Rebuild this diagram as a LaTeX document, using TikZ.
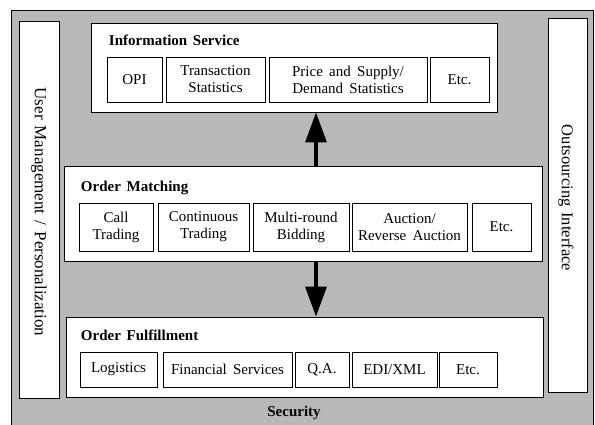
\documentclass[tikz,border=0pt]{standalone}
\usepackage{xcolor}
\usepackage{fontspec}
\setmainfont{Liberation Serif}
\usepackage{tikz}
\usetikzlibrary{arrows.meta}

\begin{document}
\begin{tikzpicture}[x=1pt,y=1pt,yscale=-1,xscale=1,
  panel/.style={draw,fill=white,line width=0.9pt,inner sep=0pt},
  cell/.style={draw,fill=white,line width=0.8pt,align=center,inner sep=0pt,font=\fontsize{15}{17}\selectfont,execute at begin node={\spaceskip=0.42em\relax}},
  title/.style={anchor=west,inner sep=0.75pt,font=\fontsize{15}{17}\selectfont\bfseries,execute at begin node={\spaceskip=0.38em\relax}},
  side/.style={inner sep=0pt,rotate=-90,font=\fontsize{17}{20}\selectfont,execute at begin node={\spaceskip=0.36em\relax}},
  flow/.style={line width=3.5pt,-{Triangle[length=30pt,width=21pt]}}]
\useasboundingbox (0,0) rectangle (595,425);
%Shape: Rectangle [Security frame]
\draw [fill=black!28,line width=0.9pt] (11,10) rectangle (593,432);

%Side panels
\node (user) [panel,minimum width=40pt,minimum height=377pt] at (39,209.5) {};
\node (outs) [panel,minimum width=39pt,minimum height=374pt] at (567.5,205) {};
% Text Node
\node (usert) [side] at (39,212) {User Management / Personalization};
% Text Node
\node (outst) [side,font=\fontsize{16.5}{20}\selectfont] at (566,198) {Outsourcing Interface};

%Layer boxes
\node (info) [panel,minimum width=406pt,minimum height=89pt] at (294,67.5) {};
\node (match) [panel,minimum width=478pt,minimum height=95pt] at (303,213.5) {};
\node (fulfil) [panel,minimum width=477pt,minimum height=80pt] at (304.5,357) {};

% Text Node
\node (infot) [title] at (108,40) {Information Service};
% Text Node
\node (matcht) [title] at (80,188) {Order Matching};
% Text Node
\node (fulfilt) [title] at (80,335) {Order Fulfillment};

%Information Service cells
\node (opi) [cell,minimum width=55pt,minimum height=45pt] at (134.5,79.5) {OPI};
\node (trans) [cell,minimum width=99pt,minimum height=45pt] at (215.5,79.5) {Transaction\\Statistics};
\node (price) [cell,minimum width=158pt,minimum height=45pt] at (348,79.5) {Price and Supply/\\Demand Statistics};
\node (etc1) [cell,minimum width=59pt,minimum height=45pt] at (459.5,79.5) {Etc.};

%Order Matching cells
\node (call) [cell,minimum width=74pt,minimum height=48pt] at (116,227) {Call\\Trading};
\node (cont) [cell,minimum width=91pt,minimum height=48pt] at (203.5,227) {Continuous\\Trading};
\node (multi) [cell,minimum width=96pt,minimum height=48pt] at (301,227) {Multi-round\\Bidding};
\node (auct) [cell,minimum width=115pt,minimum height=48pt] at (409.5,227) {Auction/\\Reverse Auction};
\node (etc2) [cell,minimum width=59pt,minimum height=48pt] at (501.5,227) {Etc.};

%Order Fulfillment cells
\node (logi) [cell,minimum width=77pt,minimum height=35pt] at (118.5,369.5) {Logistics};
\node (fin) [cell,minimum width=129pt,minimum height=35pt] at (227.5,369.5) {Financial Services};
\node (qa) [cell,minimum width=54pt,minimum height=35pt] at (322,369.5) {Q.A.};
\node (edi) [cell,minimum width=85pt,minimum height=35pt] at (394.5,369.5) {EDI/XML};
\node (etc3) [cell,minimum width=58pt,minimum height=35pt] at (468,369.5) {Etc.};

%Arrows
\coordinate (axis) at (316,0);
\draw [flow] (match.north -| axis) -- (info.south -| axis);
\draw [flow] (match.south -| axis) -- (fulfil.north -| axis);

% Text Node
\node (sec) [inner sep=0.75pt,font=\fontsize{15}{17}\selectfont\bfseries] at (294,413) {Security};

\end{tikzpicture}
\end{document}
